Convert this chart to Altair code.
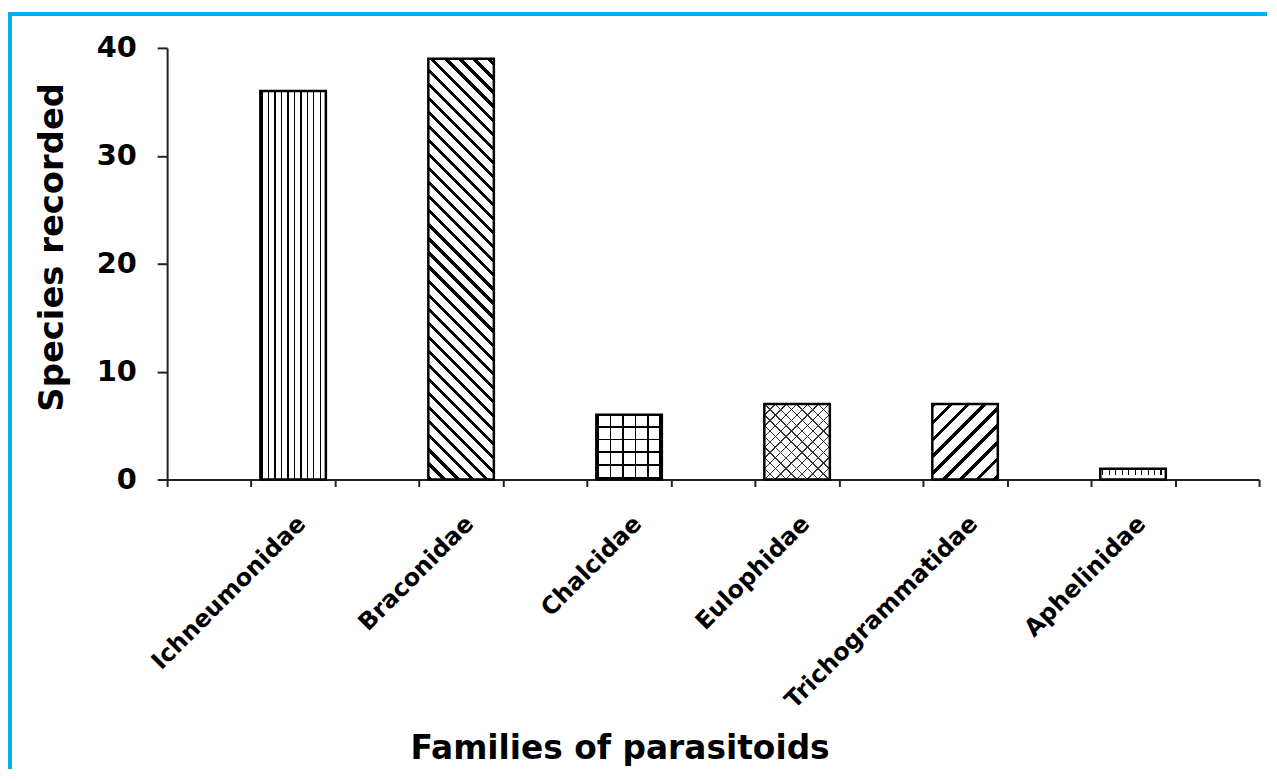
import math
import altair as alt
import pandas as pd

# ---- data ----
families = ["Ichneumonidae", "Braconidae", "Chalcidae", "Eulophidae",
            "Trichogrammatidae", "Aphelinidae"]
species = [36, 39, 6, 7, 7, 1]
y_ticks = [0, 10, 20, 30, 40]

df = pd.DataFrame({"family": families, "species": species})

# category slots: an empty slot before each family, and one at the end
gaps = [f"gap{i}" for i in range(len(families) + 1)]
slots = []
for i, f in enumerate(families):
    slots += [gaps[i], f]
slots.append(gaps[-1])

# ---- layout / style ----
PLOT_W, PLOT_H, Y_MAX = 1098, 434, 40
STEP = PLOT_W / len(slots)
BAND = 0.78
BAR_W = BAND * STEP
FONT = "DejaVu Sans"
AX = "#222222"
CYAN = "#00AEEF"
TRANS = "rgba(255,255,255,0)"
SQ2 = math.sqrt(2)


def stops_for(length, period, thick, on, off, phase=0.0):
    stops = [{"offset": 0, "color": off}]
    start = phase - 2 * period
    while start < length:
        a, b = max(0.0, start), min(length, start + thick)
        if b > a:
            oa, ob = round(a / length, 5), round(b / length, 5)
            stops += [{"offset": oa, "color": off}, {"offset": oa, "color": on},
                      {"offset": ob, "color": on}, {"offset": ob, "color": off}]
        start += period
    stops.append({"offset": 1, "color": off})
    return stops


def linear(x1, y1, x2, y2, stops):
    return {"gradient": "linear", "x1": x1, "y1": y1, "x2": x2, "y2": y2, "stops": stops}


def vlines(w, h, period, thick, on="black", off="white", phase=0.0):
    return linear(0, 0, 1, 0, stops_for(w, period, thick, on, off, phase))


def hlines(w, h, period, thick, on="black", off="white", phase=0.0):
    return linear(0, 1, 0, 0, stops_for(h, period, thick, on, off, phase))


def diag_ab(w, h):
    r = h / w
    a = (1 + r) / (1 + r * r)
    return a, r * a


def back_lines(w, h, period, thick, on="black", off="white", phase=0.0):
    # "\\\" lines
    a, b = diag_ab(w, h)
    return linear(0, 1, a, 1 - b, stops_for((w + h) / SQ2, period, thick, on, off, phase))


def fwd_lines(w, h, period, thick, on="black", off="white", phase=0.0):
    # "///" lines
    a, b = diag_ab(w, h)
    return linear(0, 0, a, b, stops_for((w + h) / SQ2, period, thick, on, off, phase))


def patterns(fam, val):
    w, h = BAR_W, val / Y_MAX * PLOT_H
    if fam == "Ichneumonidae":
        return [vlines(w, h, 6.5, 1.4, phase=1.0)]
    if fam == "Braconidae":
        return [back_lines(w, h, 10.0, 3.0)]
    if fam == "Chalcidae":
        return [vlines(w, h, 12.5, 1.6, phase=1.0),
                hlines(w, h, 12.8, 1.6, off=TRANS, phase=1.0)]
    if fam == "Eulophidae":
        return [fwd_lines(w, h, 7.6, 1.0, on="#333333"),
                back_lines(w, h, 7.6, 1.0, on="#333333", off=TRANS)]
    if fam == "Trichogrammatidae":
        return [fwd_lines(w, h, 12.0, 3.2)]
    # Aphelinidae: small ticks hanging from the top
    mask = linear(0, 0, 0, 1, [{"offset": 0, "color": TRANS}, {"offset": 0.55, "color": TRANS},
                               {"offset": 0.55, "color": "white"}, {"offset": 1, "color": "white"}])
    return [vlines(w, h, 6.5, 1.2, phase=2.0), mask]


x_enc = alt.X(
    "family:N",
    scale=alt.Scale(domain=slots, paddingInner=0, paddingOuter=0),
    axis=alt.Axis(
        title="Families of parasitoids",
        titleFont=FONT, titleFontSize=33, titleFontWeight="bold", titleColor="black",
        titleX=455, titleY=281, titleBaseline="alphabetic", titleAlign="center",
        labelExpr="indexof(datum.label, 'gap') === 0 ? '' : datum.label",
        labelAngle=-45, labelAlign="right", labelBaseline="top",
        labelFont=FONT, labelFontSize=24, labelFontWeight="bold", labelColor="black",
        labelPadding=25, labelOverlap=False, labelBound=False, labelLimit=600,
        tickBand="extent", tickSize=7, tickWidth=2, tickColor=AX,
        domainColor=AX, domainWidth=2, grid=False,
    ),
)
y_enc = alt.Y(
    "species:Q",
    scale=alt.Scale(domain=[0, Y_MAX], nice=False, zero=True),
    axis=alt.Axis(
        values=y_ticks, title="Species recorded",
        titleFont=FONT, titleFontSize=34, titleFontWeight="bold", titleColor="black",
        titleX=-105, titleY=200, titleBaseline="alphabetic", titleAlign="center", titleAngle=270,
        labelFont=FONT, labelFontSize=29, labelFontWeight="bold", labelColor="black",
        labelPadding=21, tickSize=10, tickWidth=2, tickColor=AX,
        domainColor=AX, domainWidth=2, grid=False,
    ),
)

layers = []
for fam, val in zip(families, species):
    for g in patterns(fam, val):
        layers.append(
            alt.Chart(df).transform_filter(alt.datum.family == fam)
            .mark_bar(fill=g, strokeWidth=0, width={"band": BAND})
            .encode(x=x_enc, y=y_enc)
        )

outline = alt.Chart(df).mark_bar(
    fillOpacity=0, stroke="black", strokeWidth=2.5, width={"band": BAND}
).encode(x=x_enc, y=y_enc)
layers.append(outline)

frame_df = pd.DataFrame({"k": [0]})
left_border = alt.Chart(frame_df).mark_rule(color=CYAN, strokeWidth=4).encode(
    x=alt.value(-158), y=alt.value(-36), y2=alt.value(725))
top_border = alt.Chart(frame_df).mark_rule(color=CYAN, strokeWidth=4).encode(
    x=alt.value(-160), x2=alt.value(1106), y=alt.value(-34))
layers += [left_border, top_border]

chart = alt.layer(*layers).properties(
    width=PLOT_W, height=PLOT_H,
    padding={"left": -2, "top": 0, "right": 0, "bottom": 0},
    background="white",
).configure_view(strokeWidth=0)

chart.save("out.html", embed_options={"renderer": "svg", "actions": False})
